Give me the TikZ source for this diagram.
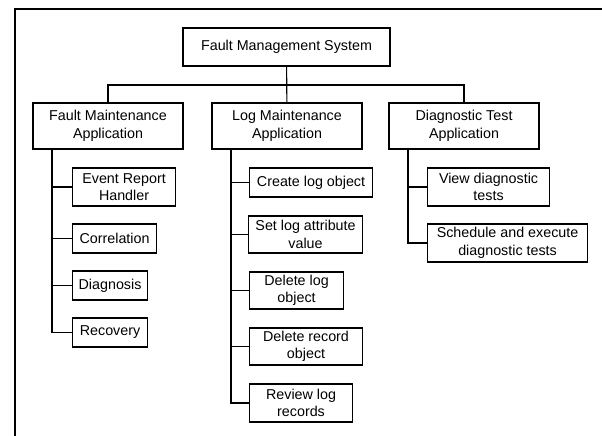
\documentclass[tikz,border=0pt]{standalone}
\usepackage{fontspec}
\setmainfont{Liberation Sans}
\usepackage{tikz}
\usetikzlibrary{positioning}
\tikzstyle{sysbox} = [
    rectangle,
    draw=black,
    line width=1.1pt,
    text centered,
    align=center,
    inner sep=2pt
]
\tikzstyle{appbox} = [
    sysbox,
    minimum width=150pt,
    minimum height=46pt
]
\tikzstyle{leaf} = [
    sysbox,
    anchor=west,
    minimum height=29pt
]
\tikzstyle{tree} = [
    line width=1.1pt
]

\begin{document}
\begin{tikzpicture}[x=1pt, y=-1pt, font=\fontsize{14.3}{17.5}\selectfont]

        \useasboundingbox (0,0) rectangle (602,436);
        \fill [white] (0,0) rectangle (602,436);
        \draw [tree, line width=1.3pt] (15,436) -- (15,9) -- (602,9);

        \node (fms)  [sysbox, minimum width=207pt, minimum height=38pt] at (286.5,47) {Fault Management System};
        \node (fma)  [appbox]                                           at (108,126)  {Fault Maintenance\\Application};
        \node (lma)  [appbox]                                           at (287,126)  {Log Maintenance\\Application};
        \node (dta)  [appbox]                                           at (464,126)  {Diagnostic Test\\Application};

        \node (erh)  [leaf, minimum width=103pt, minimum height=38pt]   at (72,187)   {Event Report\\Handler};
        \node (cor)  [leaf, minimum width=84pt]                         at (72,238.5) {Correlation};
        \node (dia)  [leaf, minimum width=75pt]                         at (72,285.5) {Diagnosis};
        \node (rec)  [leaf, minimum width=75pt]                         at (72,332.5) {Recovery};

        \node (clo)  [leaf, minimum width=123pt]                        at (249,182.5) {Create log object};
        \node (sla)  [leaf, minimum width=114pt, minimum height=37pt]   at (248,234.5) {Set log attribute\\value};
        \node (dlo)  [leaf, minimum width=94pt, minimum height=37pt]    at (249,290.5) {Delete log\\object};
        \node (dro)  [leaf, minimum width=113pt, minimum height=37pt]   at (249,346.5) {Delete record\\object};
        \node (rlr)  [leaf, minimum width=103pt, minimum height=38pt]   at (249,403)   {Review log\\records};

        \node (vdt)  [leaf, minimum width=122pt, minimum height=38pt]   at (427,187)   {View diagnostic\\tests};
        \node (sed)  [leaf, minimum width=160pt, minimum height=38pt]   at (427,243)   {Schedule and execute\\diagnostic tests};

        \coordinate (bus) at (287,85);
        \coordinate (fs)  at (52,149);
        \coordinate (ls)  at (231,149);
        \coordinate (ds)  at (408,149);

        \draw [tree] (fms)        --                (lma);
        \draw [tree] (fma.north)  |- (bus) -|       (dta.north);

        \foreach \n in {erh,cor,dia,rec}
            \draw [tree] (fs) |- (\n.west);
        \foreach \n in {clo,sla,dlo,dro,rlr}
            \draw [tree] (ls) |- (\n.west);
        \foreach \n in {vdt,sed}
            \draw [tree] (ds) |- (\n.west);

\end{tikzpicture}
\end{document}
